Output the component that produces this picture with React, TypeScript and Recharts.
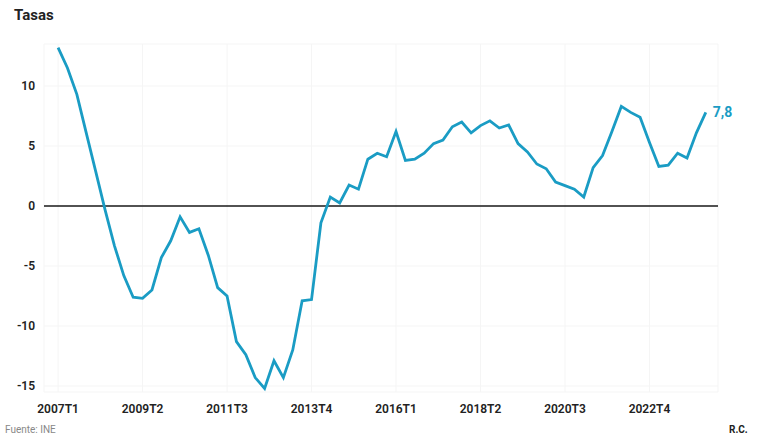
import { LineChart, Line, XAxis, YAxis, CartesianGrid, ReferenceLine, LabelList } from "recharts";

// trimestres 2007T1 .. 2024T2
const quarters = [
  "2007T1", "2007T2", "2007T3", "2007T4",
  "2008T1", "2008T2", "2008T3", "2008T4",
  "2009T1", "2009T2", "2009T3", "2009T4",
  "2010T1", "2010T2", "2010T3", "2010T4",
  "2011T1", "2011T2", "2011T3", "2011T4",
  "2012T1", "2012T2", "2012T3", "2012T4",
  "2013T1", "2013T2", "2013T3", "2013T4",
  "2014T1", "2014T2", "2014T3", "2014T4",
  "2015T1", "2015T2", "2015T3", "2015T4",
  "2016T1", "2016T2", "2016T3", "2016T4",
  "2017T1", "2017T2", "2017T3", "2017T4",
  "2018T1", "2018T2", "2018T3", "2018T4",
  "2019T1", "2019T2", "2019T3", "2019T4",
  "2020T1", "2020T2", "2020T3", "2020T4",
  "2021T1", "2021T2", "2021T3", "2021T4",
  "2022T1", "2022T2", "2022T3", "2022T4",
  "2023T1", "2023T2", "2023T3", "2023T4",
  "2024T1", "2024T2",
];

const tasas = [
  13.2, 11.5, 9.3, 6.1, 2.9, -0.3, -3.3, -5.8,
  -7.6, -7.7, -7.0, -4.3, -2.9, -0.9, -2.2, -1.9,
  -4.1, -6.8, -7.5, -11.3, -12.4, -14.3, -15.2, -12.9,
  -14.3, -12.0, -7.9, -7.8, -1.4, 0.75, 0.25, 1.75,
  1.4, 3.9, 4.4, 4.1, 6.2, 3.8, 3.9, 4.4,
  5.2, 5.5, 6.6, 7.0, 6.1, 6.7, 7.1, 6.5,
  6.75, 5.2, 4.5, 3.5, 3.1, 2.0, 1.7, 1.4,
  0.75, 3.2, 4.2, 6.2, 8.3, 7.8, 7.4, 5.3,
  3.3, 3.4, 4.4, 4.0, 6.1, 7.8,
];

const xTicks = ["2007T1", "2009T2", "2011T3", "2013T4", "2016T1", "2018T2", "2020T3", "2022T4"];
const yTicks = [-15, -10, -5, 0, 5, 10];

const COLOR = "#1a9cc4";
const FONT = "Roboto, 'Open Sans', sans-serif";

const data = quarters.map((q, i) => ({ i, q, v: tasas[i] }));
const lastIdx = data.length - 1;

function EndLabel(props: any) {
  const { x, y, index } = props;
  if (index !== lastIdx) return null;
  return (
    <text x={x + 7} y={y + 5} fill={COLOR} fontSize={14} fontWeight={700} fontFamily={FONT}>
      {String(tasas[lastIdx]).replace(".", ",")}
    </text>
  );
}

export default function App() {
  const tickStyle = { fontSize: 12, fontWeight: 600, fill: "#222", fontFamily: FONT };
  return (
    <div style={{ position: "absolute", left: 0, top: 0, width: 759, height: 437, background: "#fff", fontFamily: FONT }}>
      <div style={{ position: "absolute", left: 14, top: 6, fontSize: 15, fontWeight: 700, color: "#222" }}>Tasas</div>
      <LineChart width={759} height={437} data={data} margin={{ top: 44, right: 41, bottom: 25, left: 0 }}>
        <CartesianGrid stroke="#f5f5f5" strokeWidth={1} />
        <XAxis
          dataKey="i"
          type="number"
          domain={[-1.5, 70.3]}
          ticks={xTicks.map((t) => quarters.indexOf(t))}
          tickFormatter={(v) => quarters[v]}
          axisLine={false}
          tickLine={false}
          tickMargin={6}
          height={20}
          tick={tickStyle}
          allowDataOverflow
        />
        <YAxis
          type="number"
          domain={[-15.5, 13.5]}
          ticks={yTicks}
          axisLine={false}
          tickLine={false}
          tickMargin={3}
          width={44}
          tick={tickStyle}
          allowDataOverflow
        />
        <ReferenceLine y={0} stroke="#1a1a1a" strokeWidth={1.5} />
        <Line
          type="linear"
          dataKey="v"
          stroke={COLOR}
          strokeWidth={2.8}
          dot={false}
          isAnimationActive={false}
        >
          <LabelList dataKey="v" content={<EndLabel />} />
        </Line>
      </LineChart>
      <div style={{ position: "absolute", left: 5, top: 424, fontSize: 10, color: "#888" }}>Fuente: INE</div>
      <div style={{ position: "absolute", left: 729, top: 424, fontSize: 10, fontWeight: 700, color: "#222" }}>R.C.</div>
    </div>
  );
}
